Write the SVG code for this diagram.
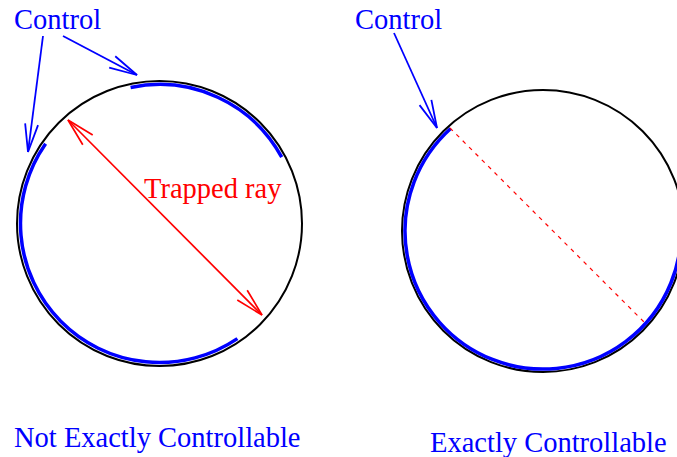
<svg xmlns="http://www.w3.org/2000/svg" width="677" height="457" viewBox="0 0 677 457">
<style>
text{font-family:"Liberation Serif","Times New Roman",serif;font-size:28.5px}
.blue{fill:#0000ff}
.red{fill:#ff0000}
.circ{fill:none;stroke:#000;stroke-width:2}
.ctrl{fill:none;stroke:#0000ff;stroke-width:3.5}
.barrow{fill:none;stroke:#0000ff;stroke-width:1.8}
.rarrow{fill:none;stroke:#ff0000;stroke-width:1.7}
</style>
<defs>
<marker id="hb" markerUnits="userSpaceOnUse" viewBox="-30 -10 32 20" markerWidth="32" markerHeight="20" refX="0" refY="0" orient="auto" overflow="visible">
<path d="M-28,-6.5 L0,0 L-28,6.5" fill="none" stroke="#0000ff" stroke-width="1.8"/>
</marker>
<marker id="hr" markerUnits="userSpaceOnUse" viewBox="-30 -10 32 20" markerWidth="32" markerHeight="20" refX="0" refY="0" orient="auto-start-reverse" overflow="visible">
<path d="M-28,-7 L0,0 L-28,7" fill="none" stroke="#ff0000" stroke-width="1.7"/>
</marker>
</defs>
<g id="left-domain">
<circle class="circ" cx="159.5" cy="223.5" r="142.5"/>
<path class="ctrl" d="M130.6,87.5 A139,139 0 0,1 281.7,157.2"/>
<path class="ctrl" d="M45.6,143.8 A139,139 0 0,0 237.4,338.6"/>
</g>
<g id="right-domain">
<circle class="circ" cx="543" cy="231" r="141"/>
<path class="ctrl" d="M450.7,128.5 A138,138 0 1,0 680.5,219"/>
</g>
<g id="connectors">
<line class="barrow" x1="43" y1="36" x2="28" y2="152" marker-end="url(#hb)"/>
<line class="barrow" x1="63" y1="36" x2="137" y2="75" marker-end="url(#hb)"/>
<line class="barrow" x1="394" y1="33" x2="437" y2="128" marker-end="url(#hb)"/>
<line class="rarrow" x1="68" y1="120" x2="262" y2="315" marker-start="url(#hr)" marker-end="url(#hr)"/>
<line x1="450" y1="128" x2="645" y2="323" stroke="#ff0000" stroke-width="1.2" stroke-dasharray="4,5"/>
</g>
<g id="labels">
<text class="blue" x="14" y="29">Control</text>
<text class="blue" x="355" y="29">Control</text>
<text class="red" x="144" y="198">Trapped ray</text>
<text class="blue" x="14" y="447">Not Exactly Controllable</text>
<text class="blue" x="430" y="452">Exactly Controllable</text>
</g>
</svg>
